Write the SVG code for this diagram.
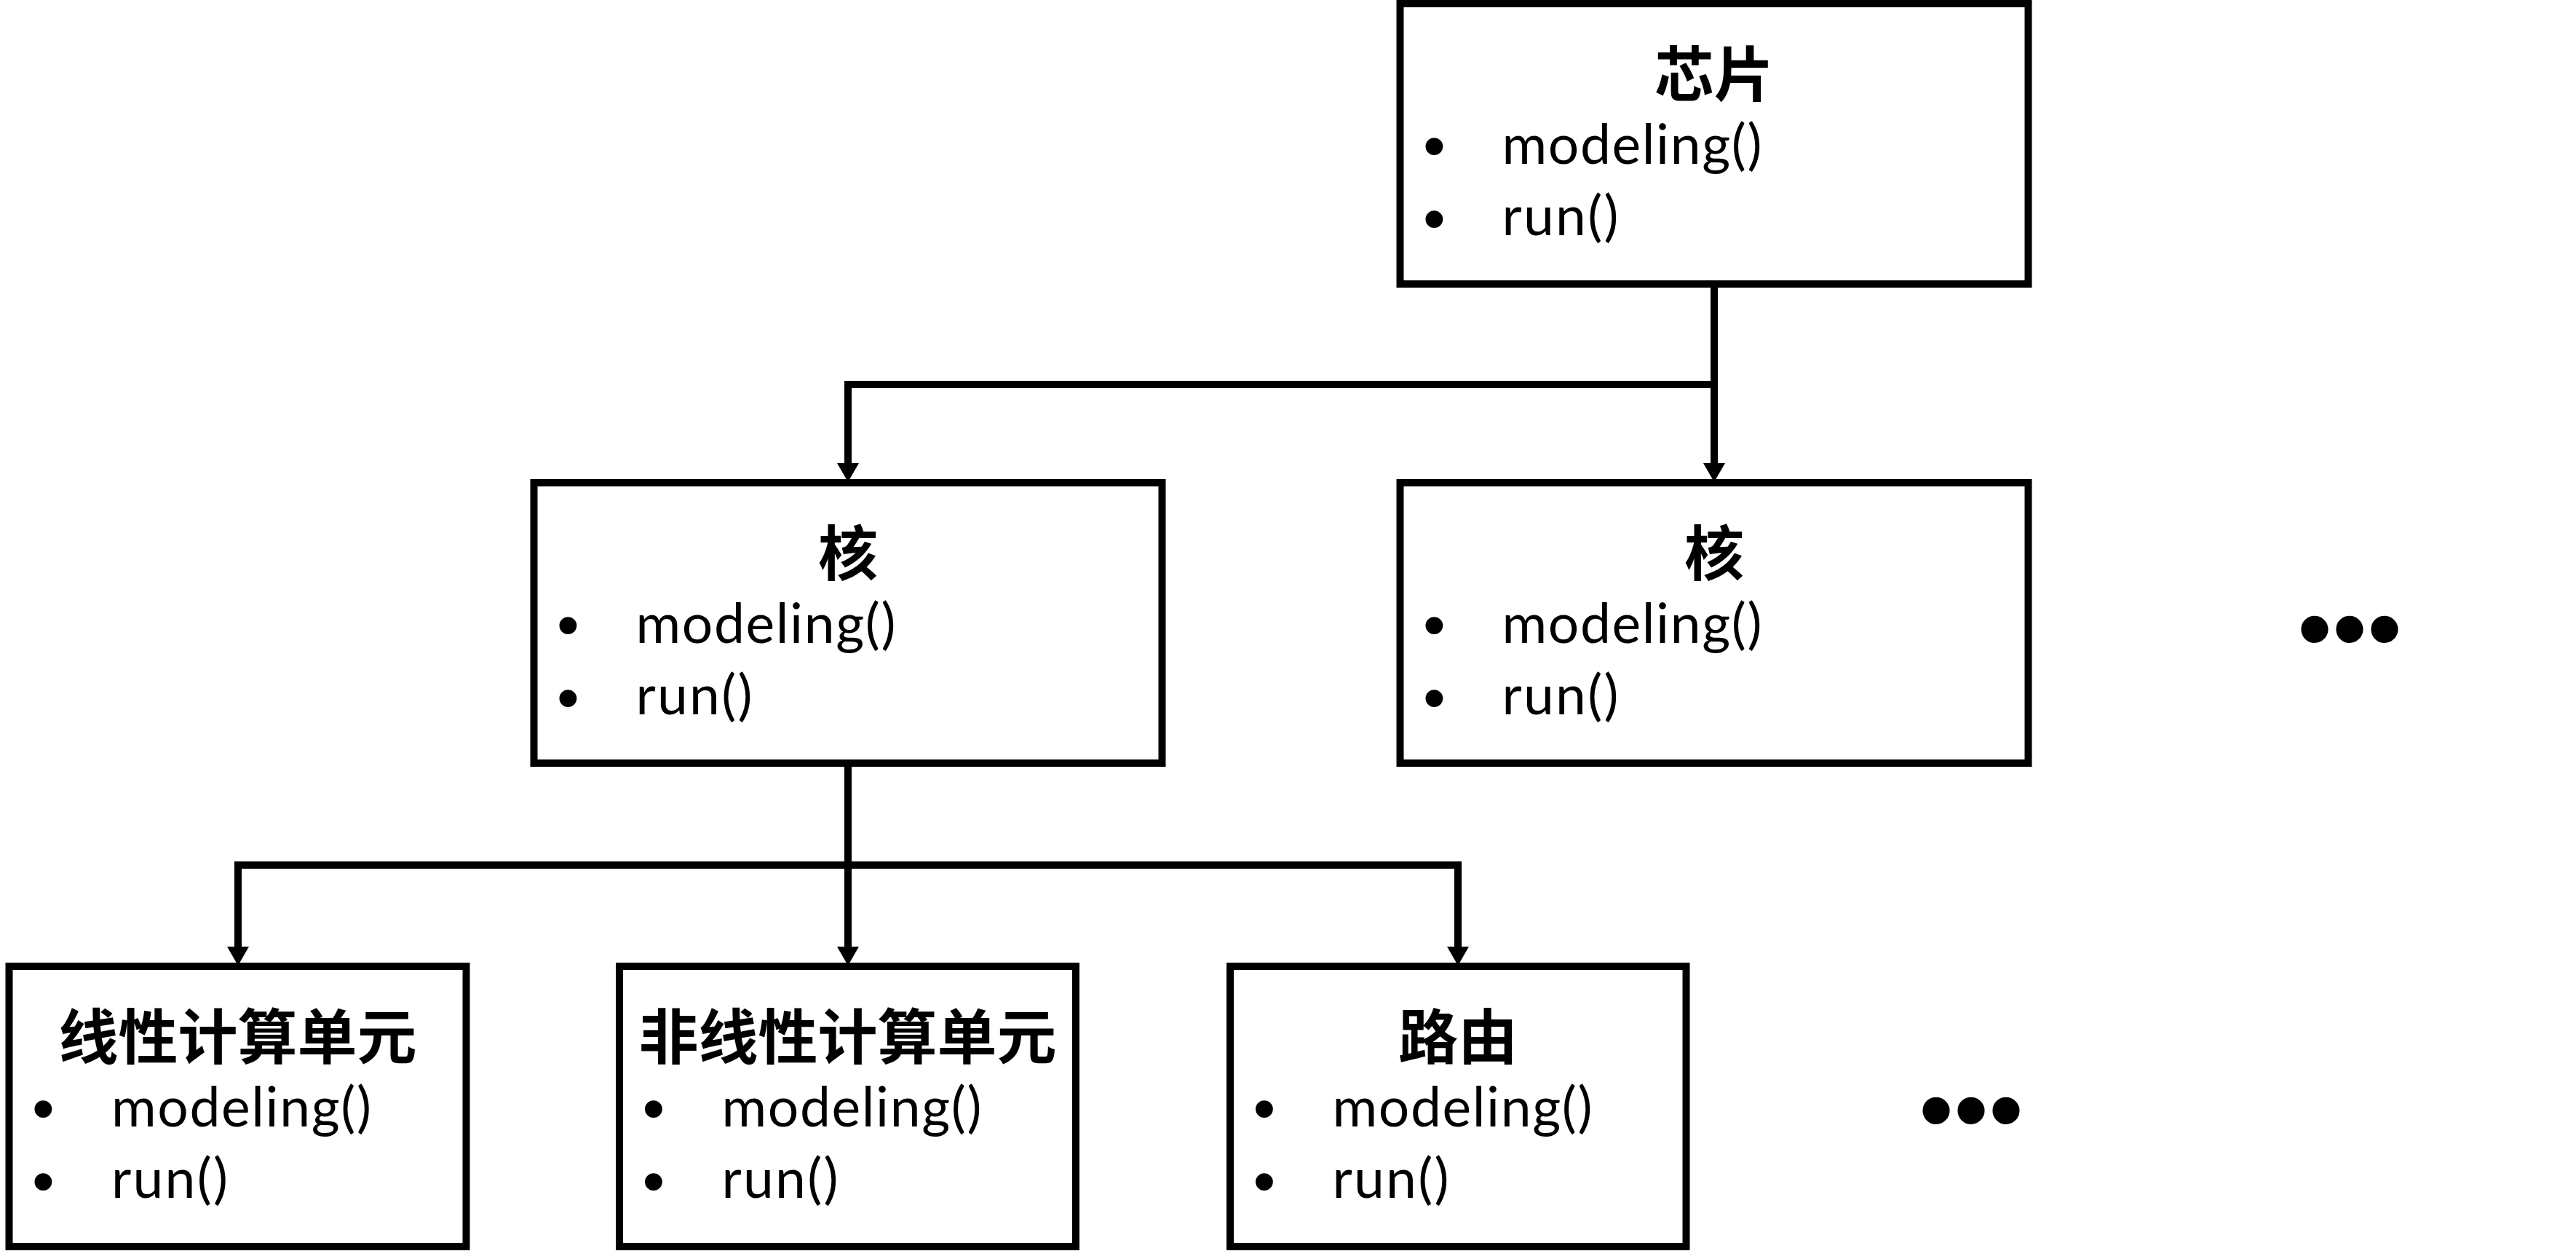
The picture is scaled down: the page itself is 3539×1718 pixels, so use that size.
<svg xmlns="http://www.w3.org/2000/svg" width="3539" height="1718" viewBox="0 0 3539 1718">
<style>
.box{fill:#fff;stroke:#000;stroke-width:10}
.title{font-family:"Noto Sans CJK SC","Noto Sans CJK TC",sans-serif;font-weight:bold;font-size:82px;fill:#000;text-anchor:middle}
.item{font-family:Lato,"Open Sans","Liberation Sans",sans-serif;font-size:75px;fill:#000}
.bul{font-family:"Liberation Sans",sans-serif;font-size:88px;fill:#000;text-anchor:middle}
.more{font-family:"Liberation Sans",sans-serif;font-size:137px;fill:#000;text-anchor:middle}
.conn{fill:none;stroke:#000;stroke-width:10}
</style>
<defs>
<marker id="arr" markerUnits="userSpaceOnUse" viewBox="0 0 26 30" refX="4" refY="15" markerWidth="26" markerHeight="30" orient="auto">
<path d="M0,0 L26,15 L0,30 Z" fill="#000"/>
</marker>
</defs>
<rect width="3539" height="1718" fill="#fff"/>
<g id="connectors">
<path class="conn" d="M2355,390 V528 H1165 V640" marker-end="url(#arr)"/>
<path class="conn" d="M2355,523 V640" marker-end="url(#arr)"/>
<path class="conn" d="M1165,1049 V1188 H327 V1304" marker-end="url(#arr)"/>
<path class="conn" d="M1165,1183 V1304" marker-end="url(#arr)"/>
<path class="conn" d="M1160,1188 H2003 V1304" marker-end="url(#arr)"/>
</g>
<g id="chip">
<rect class="box" x="1923.5" y="5" width="863" height="385"/>
<text class="title" x="2355" y="132">芯片</text>
<text class="bul" x="1970.5" y="230">•</text>
<text class="item" x="2063.5" y="225" textLength="357">modeling()</text>
<text class="bul" x="1970.5" y="330">•</text>
<text class="item" x="2063.5" y="323" textLength="160">run()</text>
</g>
<g id="core1">
<rect class="box" x="733.5" y="663" width="863" height="385"/>
<text class="title" x="1165" y="790">核</text>
<text class="bul" x="780.5" y="888">•</text>
<text class="item" x="873.5" y="883" textLength="357">modeling()</text>
<text class="bul" x="780.5" y="988">•</text>
<text class="item" x="873.5" y="981" textLength="160">run()</text>
</g>
<g id="core2">
<rect class="box" x="1923.5" y="663" width="863" height="385"/>
<text class="title" x="2355" y="790">核</text>
<text class="bul" x="1970.5" y="888">•</text>
<text class="item" x="2063.5" y="883" textLength="357">modeling()</text>
<text class="bul" x="1970.5" y="988">•</text>
<text class="item" x="2063.5" y="981" textLength="160">run()</text>
</g>
<g id="linear">
<rect class="box" x="12.5" y="1327" width="628" height="385"/>
<text class="title" x="326.5" y="1454">线性计算单元</text>
<text class="bul" x="59.5" y="1552">•</text>
<text class="item" x="153" y="1547" textLength="357">modeling()</text>
<text class="bul" x="59.5" y="1652">•</text>
<text class="item" x="153" y="1645" textLength="160">run()</text>
</g>
<g id="nonlinear">
<rect class="box" x="851" y="1327" width="627" height="385"/>
<text class="title" x="1164.5" y="1454">非线性计算单元</text>
<text class="bul" x="898" y="1552">•</text>
<text class="item" x="991.5" y="1547" textLength="357">modeling()</text>
<text class="bul" x="898" y="1652">•</text>
<text class="item" x="991.5" y="1645" textLength="160">run()</text>
</g>
<g id="router">
<rect class="box" x="1690" y="1327" width="626.5" height="385"/>
<text class="title" x="2003" y="1454">路由</text>
<text class="bul" x="1737" y="1552">•</text>
<text class="item" x="1830.5" y="1547" textLength="357">modeling()</text>
<text class="bul" x="1737" y="1652">•</text>
<text class="item" x="1830.5" y="1645" textLength="160">run()</text>
</g>
<g id="more-cores">
<text class="more" x="3228" y="910">•••</text>
</g>
<g id="more-units">
<text class="more" x="2708" y="1571">•••</text>
</g>
</svg>
